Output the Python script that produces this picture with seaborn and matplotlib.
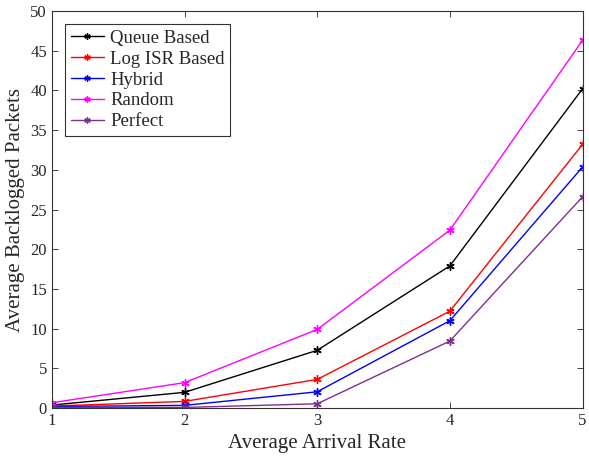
import matplotlib.pyplot as plt
import numpy as np
import pandas as pd
import seaborn as sns

# Data
arrival_rate = [1, 2, 3, 4, 5]
queue_based = [0.38, 1.98, 7.27, 17.9, 40.2]
log_isr_based = [0.25, 0.84, 3.61, 12.2, 33.2]
hybrid = [0.2, 0.34, 2.05, 11.0, 30.35]
random_sched = [0.67, 3.2, 9.9, 22.4, 46.3]
perfect = [0.1, 0.08, 0.54, 8.44, 26.6]

names = ['Queue Based', 'Log ISR Based', 'Hybrid', 'Random', 'Perfect']
colors = ['black', 'red', 'blue', 'magenta', '#7E2F8E']

df = pd.DataFrame({
    'rate': arrival_rate * 5,
    'value': queue_based + log_isr_based + hybrid + random_sched + perfect,
    'scheme': np.repeat(names, len(arrival_rate)),
})

sns.set_style('ticks')
plt.rcParams['font.family'] = ['Liberation Serif', 'DejaVu Serif']

fig = plt.figure(figsize=(5.89, 4.58), dpi=100)
ax = fig.add_axes([0.088, 0.109, 0.901, 0.867])

sns.lineplot(data=df, x='rate', y='value', hue='scheme', hue_order=names,
             palette=colors, marker=(6, 2, 0), markersize=6,
             linewidth=1, ax=ax, legend=False)
# asterisk markers drawn in the line colour
for line in ax.lines:
    line.set_markeredgecolor(line.get_color())
    line.set_markeredgewidth(1.0)

ax.set_xlim(1, 5)
ax.set_ylim(0, 50)
ax.set_xticks(arrival_rate)
ax.set_yticks(np.arange(0, 51, 5))
ax.tick_params(direction='in', top=True, right=True, labelsize=12, length=4, width=0.6)
for s in ax.spines.values():
    s.set_linewidth(0.8)
    s.set_color('#333333')
ax.set_xlabel('Average Arrival Rate', fontsize=15)
ax.set_ylabel('Average Backlogged Packets', fontsize=15)

leg = ax.legend(ax.lines, names, loc='upper left', fontsize=13.5, frameon=True, fancybox=False,
                edgecolor='black', handlelength=1.8, handletextpad=0.3,
                borderpad=0.3, labelspacing=0.2, borderaxespad=0.7, markerscale=0.75)
leg.get_frame().set_linewidth(0.8)

fig.savefig('out.png', dpi=100)
